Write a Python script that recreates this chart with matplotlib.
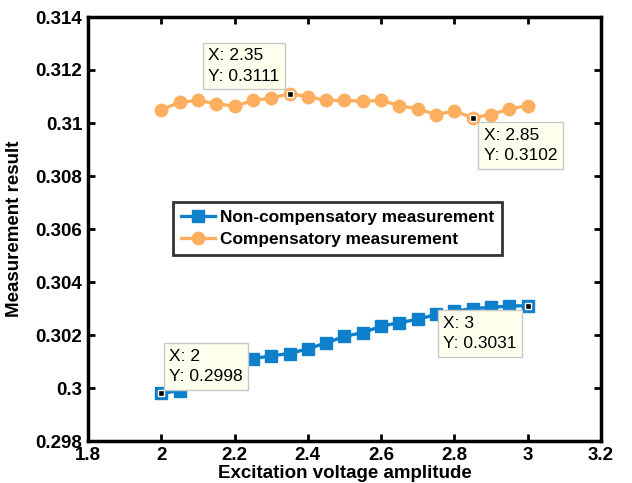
import matplotlib
matplotlib.use("Agg")
import matplotlib.pyplot as plt
from matplotlib.ticker import FuncFormatter

plt.rcParams['font.family'] = ['Liberation Sans', 'DejaVu Sans']

# excitation voltage amplitude
volts = [2.0, 2.05, 2.1, 2.15, 2.2, 2.25, 2.3, 2.35, 2.4, 2.45, 2.5,
         2.55, 2.6, 2.65, 2.7, 2.75, 2.8, 2.85, 2.9, 2.95, 3.0]

# measured without compensation
non_comp = [0.2998, 0.2999, 0.3002, 0.3006, 0.3009, 0.3011, 0.30122, 0.3013,
            0.30148, 0.3017, 0.30195, 0.30209, 0.30233, 0.30247, 0.30259,
            0.30278, 0.3029, 0.3030, 0.30304, 0.3031, 0.3031]

# measured with compensation
comp = [0.3105, 0.31078, 0.31085, 0.31073, 0.31063, 0.31085, 0.31094, 0.3111,
        0.3110, 0.31085, 0.31085, 0.31082, 0.31085, 0.31066, 0.31053,
        0.31032, 0.31045, 0.3102, 0.31032, 0.31053, 0.31066]

# data tips: (x, y, offset px, ha, va)
tips = [(2.35, 0.3111, (-10, 10), 'right', 'bottom'),
        (2.85, 0.3102, (11, -10), 'left', 'top'),
        (2.0, 0.2998, (8, 9), 'left', 'bottom'),
        (3.0, 0.3031, (-11, -10), 'right', 'top')]

blue = '#0e80cb'
orange = '#fdaf5f'

fig = plt.figure(figsize=(6.32, 4.83), dpi=100)
ax = fig.add_axes([88/632, 1-441/483, 513/632, 424/483])

ax.plot(volts, non_comp, '-s', color=blue, lw=2.4, ms=8, label='Non-compensatory measurement')
ax.plot(volts, comp, '-o', color=orange, lw=2.4, ms=9, label='Compensatory measurement')

ax.set_xlim(1.8, 3.2)
ax.set_ylim(0.298, 0.314)
ax.set_xticks([1.8, 2.0, 2.2, 2.4, 2.6, 2.8, 3.0, 3.2])
ax.set_yticks([0.298, 0.300, 0.302, 0.304, 0.306, 0.308, 0.310, 0.312, 0.314])
fmt = FuncFormatter(lambda v, p: '%g' % round(v, 4))
ax.xaxis.set_major_formatter(fmt)
ax.yaxis.set_major_formatter(fmt)

ax.tick_params(direction='in', length=5, width=2, top=True, right=True,
               labelsize=13.5, pad=4)
for lab in ax.get_xticklabels() + ax.get_yticklabels():
    lab.set_fontweight('bold')
for sp in ax.spines.values():
    sp.set_linewidth(2.5)

ax.set_xlabel('Excitation voltage amplitude', fontsize=13.5, fontweight='bold', labelpad=1)
ax.set_ylabel('Measurement result', fontsize=13.5, fontweight='bold', labelpad=8)
ax.yaxis.set_label_coords(-0.127, 0.5)

leg = ax.legend(loc='upper left', bbox_to_anchor=(0.166, 0.564),
                prop={'weight': 'bold', 'size': 12.4}, frameon=True, fancybox=False,
                handlelength=2.0, borderpad=0.45, labelspacing=0.45, handletextpad=0.25,
                borderaxespad=0)
leg.get_frame().set_edgecolor('black')
leg.get_frame().set_linewidth(2)

for x, y, off, ha, va in tips:
    ax.plot([x], [y], 's', ms=5, mfc='black', mec='white', mew=1, zorder=5)
    ax.annotate('X: %g\nY: %g' % (x, y), xy=(x, y), xytext=off,
                textcoords='offset pixels', ha=ha, va=va, multialignment='left',
                fontsize=12.5, linespacing=1.45, zorder=6,
                bbox=dict(boxstyle='square,pad=0.32', fc='#ffffee', ec='#c8c8c8', lw=1))

fig.savefig('out.png', dpi=100)
